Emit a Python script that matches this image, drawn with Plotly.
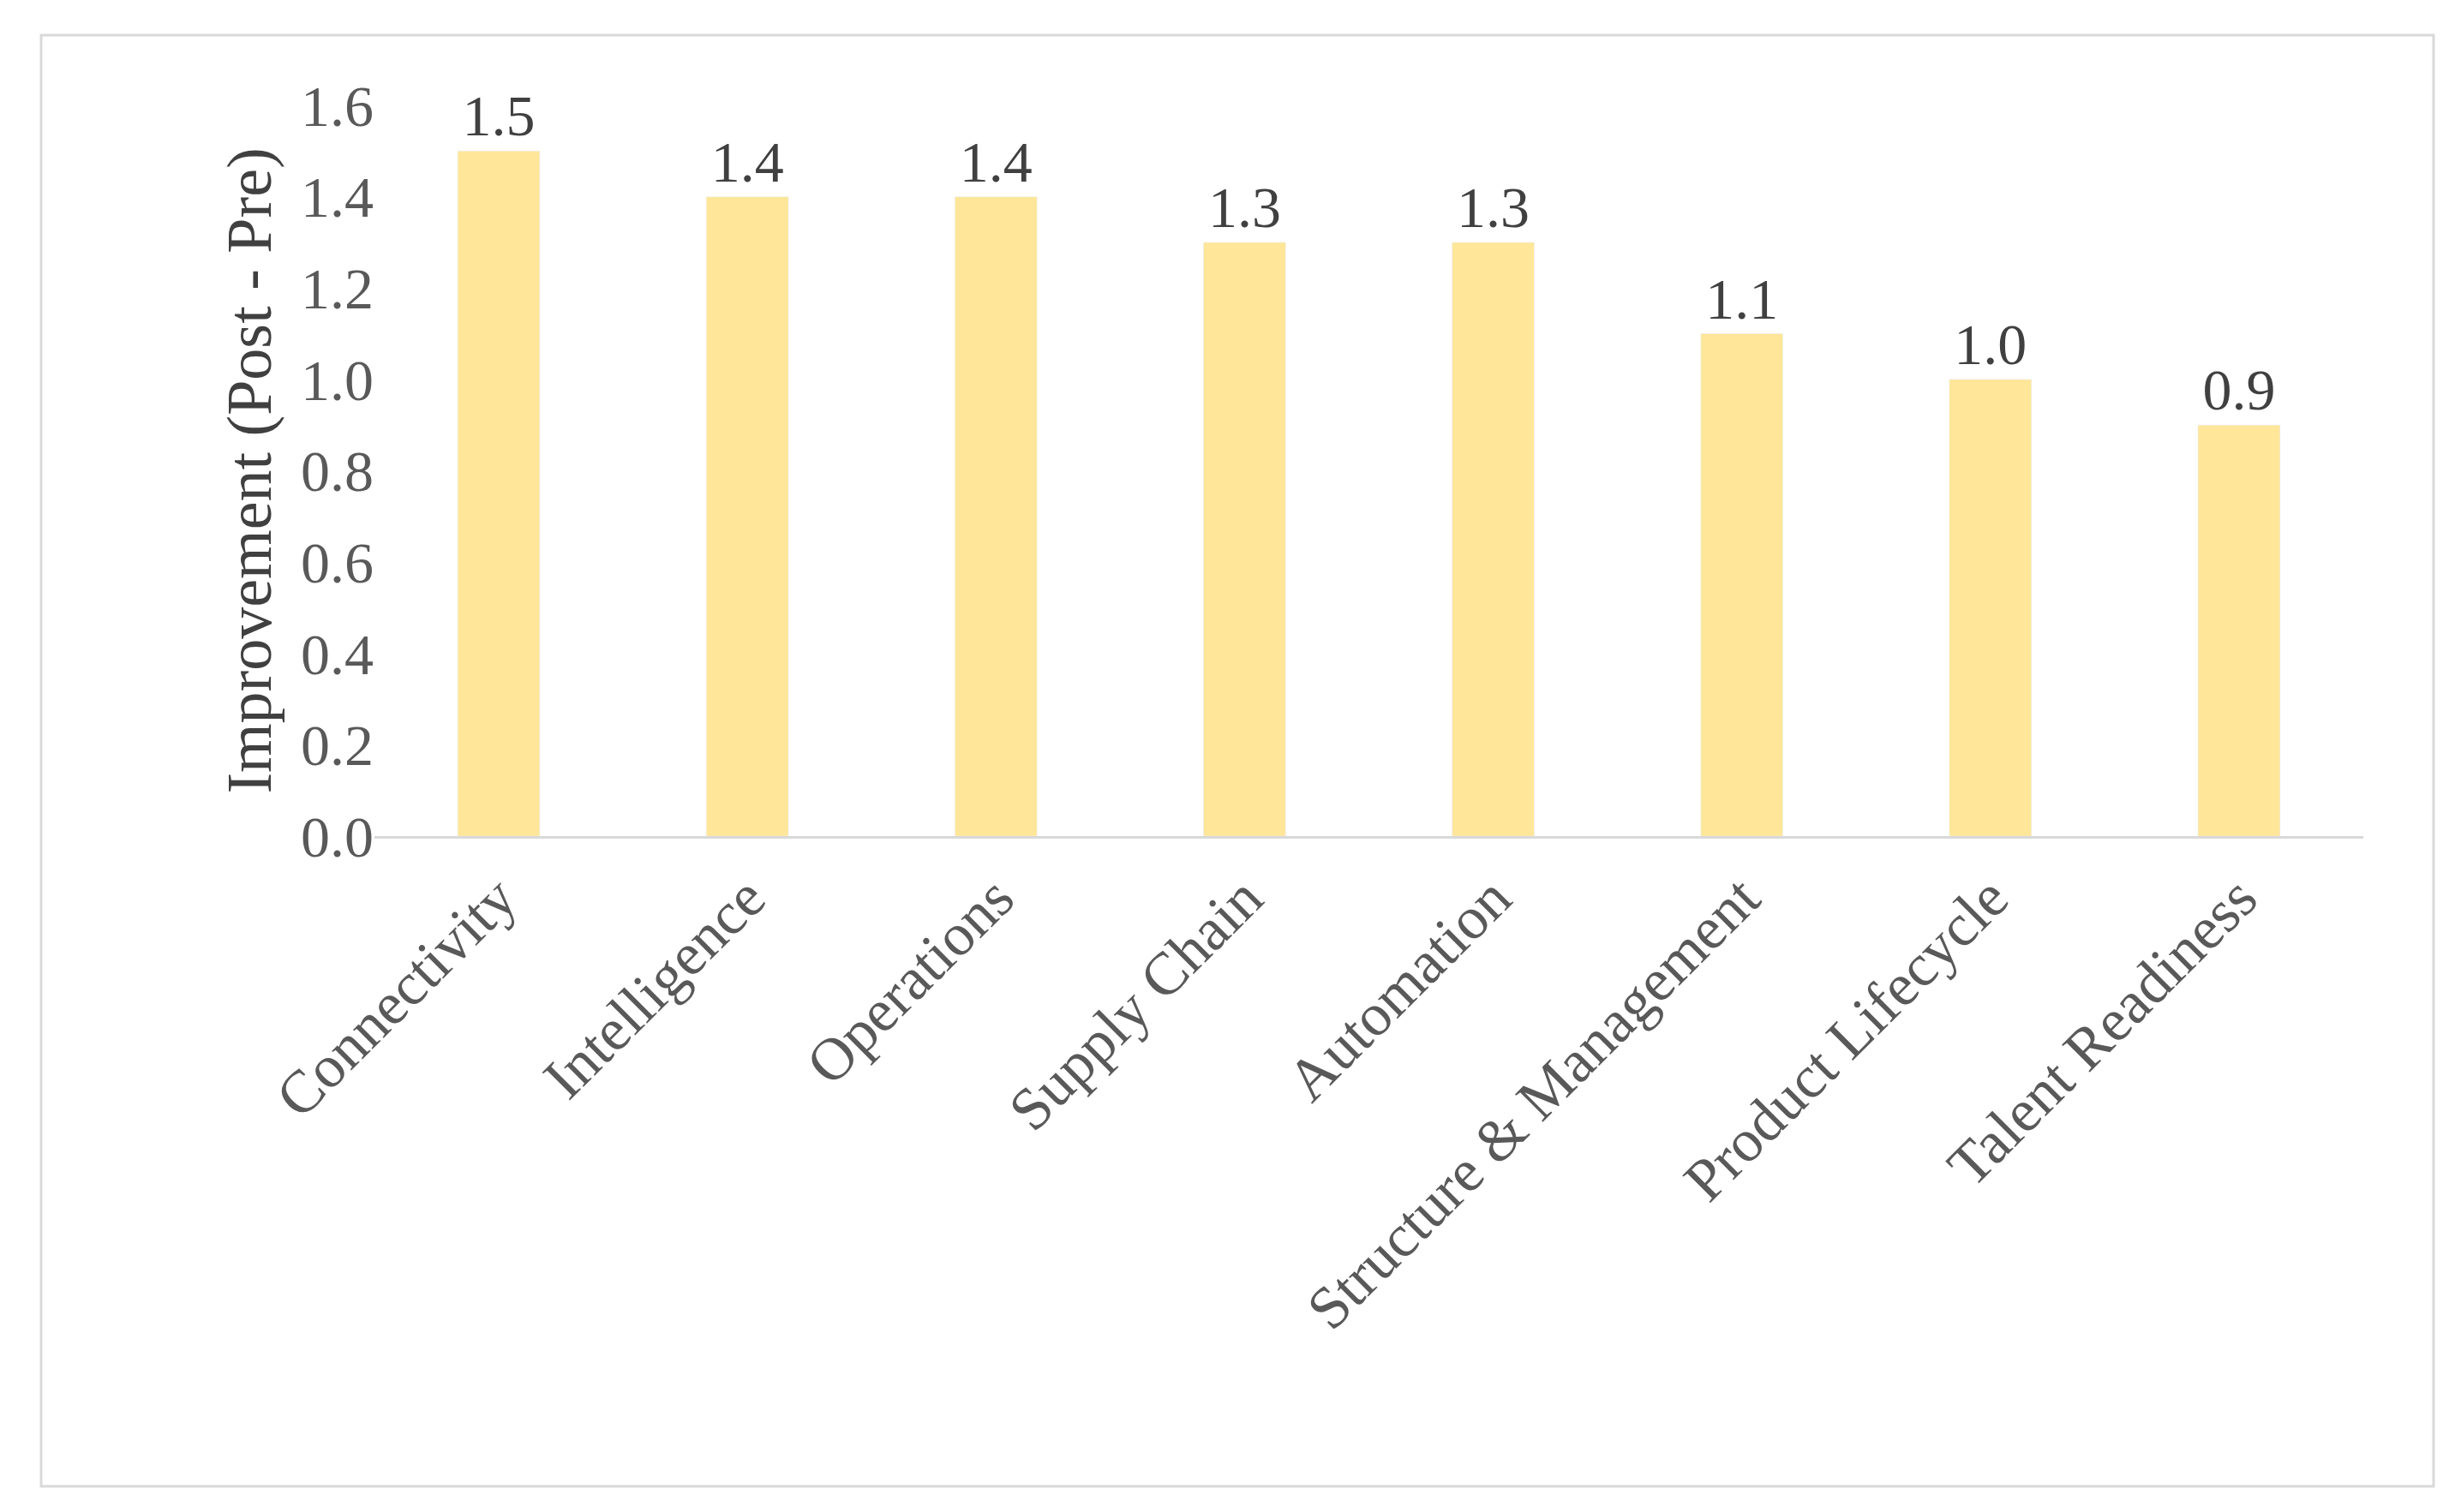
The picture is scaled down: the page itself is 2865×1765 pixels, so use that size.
import plotly.graph_objects as go

categories = ["Connectivity", "Intelligence", "Operations", "Supply Chain", "Automation",
              "Structure & Management", "Product Lifecycle", "Talent Readiness"]
values = [1.5, 1.4, 1.4, 1.3, 1.3, 1.1, 1.0, 0.9]
tick_vals = [0.0, 0.2, 0.4, 0.6, 0.8, 1.0, 1.2, 1.4, 1.6]

font = "Liberation Serif"
fig = go.Figure(go.Bar(
    x=categories, y=values, width=0.33, marker_color="#FFE699",
    text=[f"{v:.1f}" for v in values], textposition="outside",
    textfont=dict(family=font, size=68, color="#404040"), cliponaxis=False))

top, bottom = 115, 1765 - 968
fig.update_layout(
    width=2865, height=1765, plot_bgcolor="white", paper_bgcolor="white",
    margin=dict(l=429, r=115, t=top, b=bottom), showlegend=False,
    font=dict(family=font, size=68, color="#595959"),
    xaxis=dict(tickangle=-45, showline=True, linecolor="#D9D9D9", linewidth=3,
               ticks="", tickfont=dict(size=70, color="#595959")),
    yaxis=dict(range=[0, 1.6], tickvals=tick_vals, tickformat=".1f", showgrid=False,
               zeroline=False, showline=False, tickfont=dict(size=68, color="#595959"),
               title=dict(text="Improvement (Post - Pre)", font=dict(size=74, color="#404040"), standoff=10)),
)
pw = 2750 - 429
ph = 1765 - top - bottom
fig.add_shape(type="rect", xref="paper", yref="paper",
              x0=(40 - 429) / pw, x1=(2832 - 429) / pw,
              y0=-(1727 - (1765 - bottom)) / ph, y1=1 + (top - 33) / ph,
              line=dict(color="#D9D9D9", width=3))
fig.write_html("out.html")
